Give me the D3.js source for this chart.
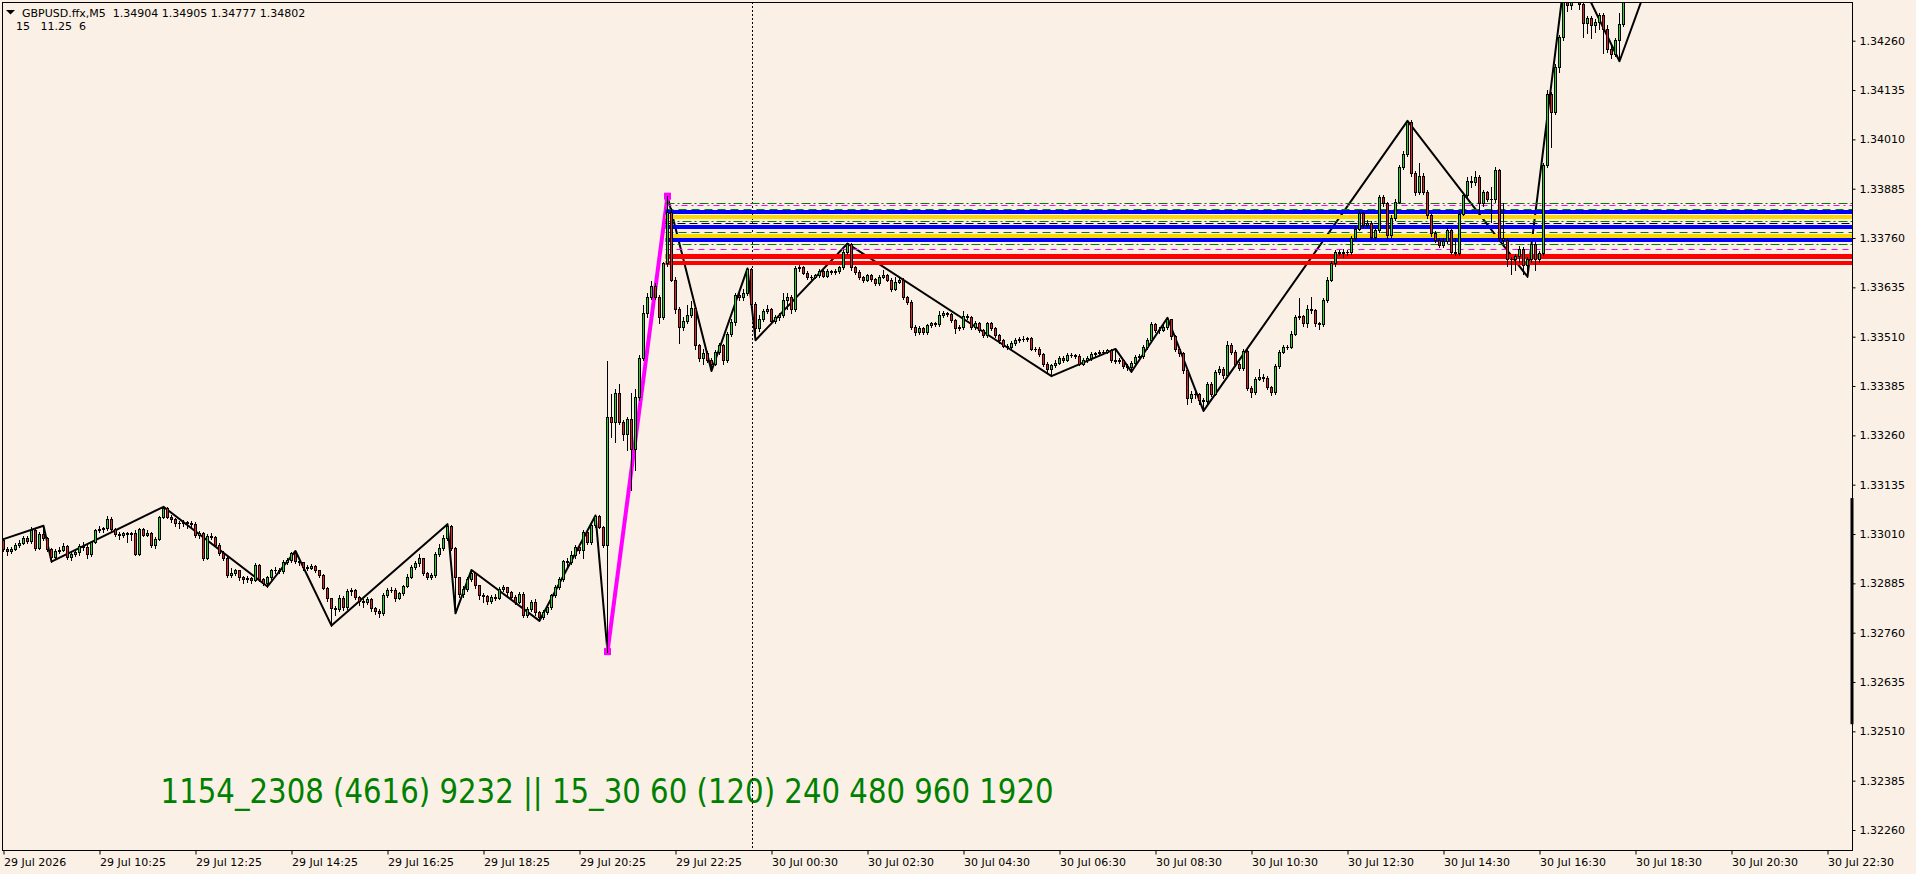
<!DOCTYPE html>
<html>
<head>
<meta charset="utf-8">
<script src="https://cdn.jsdelivr.net/npm/d3@7"></script>
<style>
	html, body { margin: 0; padding: 0; background: #faf0e6; overflow: hidden; }
	svg { display: block; }
</style>
</head>
<body>
<svg id="chart"></svg>
<script>
(function(){
	'use strict';

	// GBPUSD M5, prices written in points (0.00001) above BASE
	var BASE = 1.32;
	var firstOpen = 995;

	var closes = [
		971,968,973,982,988,1000,992,1020,975,1010,
		1000,973,952,968,970,980,951,960,964,980,
		978,960,990,1019,1022,1025,1049,1022,1010,1008,
		1012,1010,1012,960,1022,1008,1012,982,998,1052,
		1077,1054,1047,1038,1037,1040,1038,1036,1007,1012,
		950,1005,1003,983,963,950,906,912,918,900,
		895,898,894,932,895,886,900,918,920,917,
		940,943,962,942,938,926,925,930,918,906,
		874,847,822,820,849,825,866,868,851,840,
		838,845,822,815,810,855,868,869,848,860,
		878,902,927,936,948,912,901,905,960,975,
		1000,1030,975,900,858,870,895,912,880,855,
		852,840,850,848,870,875,862,850,838,858,
		805,820,838,812,800,812,825,855,875,896,
		941,940,957,977,969,1015,990,1033,1056,1028,
		982,1307,1294,1368,1294,1264,1302,1226,1356,1457,
		1569,1611,1638,1611,1561,1696,1827,1654,1579,1535,
		1550,1565,1582,1489,1455,1468,1451,1442,1472,1489,
		1451,1517,1548,1615,1611,1621,1681,1594,1531,1556,
		1576,1579,1550,1559,1565,1603,1610,1579,1683,1686,
		1672,1660,1662,1666,1677,1665,1677,1674,1677,1686,
		1725,1745,1686,1675,1660,1654,1666,1655,1645,1662,
		1666,1654,1632,1649,1654,1611,1599,1535,1522,1531,
		1522,1539,1544,1542,1565,1569,1567,1552,1531,1535,
		1562,1559,1535,1545,1527,1514,1544,1531,1514,1501,
		1487,1484,1493,1501,1503,1505,1506,1480,1480,1466,
		1442,1427,1438,1444,1455,1452,1463,1463,1462,1442,
		1451,1455,1466,1468,1472,1472,1476,1451,1449,1451,
		1436,1432,1444,1459,1461,1485,1501,1542,1527,1528,
		1535,1554,1512,1480,1468,1425,1354,1366,1365,1349,
		1348,1390,1366,1421,1427,1413,1490,1472,1442,1430,
		1474,1381,1370,1404,1407,1405,1383,1370,1436,1472,
		1485,1485,1518,1561,1562,1544,1579,1577,1544,1542,
		1603,1654,1696,1725,1723,1725,1724,1759,1784,1823,
		1793,1799,1763,1780,1865,1848,1768,1812,1852,1940,
		1974,2055,1924,1877,1917,1877,1818,1772,1756,1742,
		1753,1780,1725,1723,1822,1869,1904,1902,1915,1848,
		1877,1860,1858,1932,1759,1755,1706,1708,1714,1733,
		1691,1708,1746,1708,1722,1945,2126,2080,2194,2270,
		2362,2350,2372,2380,2353,2304,2317,2300,2308,2325,
		2289,2240,2226,2263,2302,2370,2395,2384,2410,2398,
		2420,2415,2425
	];

	var highs = [
		999,976,977,986,994,1005,1004,1027,1023,1016,
		1031,1003,975,972,976,986,983,968,970,985,
		990,982,993,1023,1030,1029,1055,1052,1024,1015,
		1016,1014,1016,1020,1026,1025,1020,1014,1002,1055,
		1079,1078,1058,1050,1043,1045,1044,1042,1040,1018,
		1015,1010,1012,1006,986,966,952,925,922,920,
		904,904,902,936,934,898,903,921,926,925,
		945,950,965,967,946,940,931,934,932,920,
		908,876,849,828,855,852,870,874,870,853,
		845,850,848,825,820,860,872,875,872,864,
		882,908,931,942,960,950,915,910,965,985,
		1008,1035,1032,978,902,878,900,919,914,882,
		860,855,855,858,875,880,877,866,855,862,
		862,826,842,845,816,818,830,858,880,900,
		945,948,968,982,980,1020,1018,1038,1057,1058,
		1030,1448,1366,1378,1389,1298,1306,1368,1378,1463,
		1590,1620,1650,1645,1615,1700,1866,1835,1660,1586,
		1560,1590,1600,1586,1492,1478,1475,1455,1476,1495,
		1492,1522,1555,1620,1625,1630,1683,1684,1598,1566,
		1580,1590,1583,1565,1570,1620,1620,1615,1690,1692,
		1690,1676,1666,1670,1682,1680,1681,1680,1682,1690,
		1730,1746,1748,1690,1678,1664,1670,1668,1658,1666,
		1680,1670,1658,1660,1658,1658,1614,1602,1540,1536,
		1535,1543,1548,1548,1575,1574,1573,1570,1555,1540,
		1575,1568,1562,1550,1548,1530,1548,1548,1534,1517,
		1504,1492,1498,1506,1510,1512,1510,1509,1485,1483,
		1468,1445,1442,1450,1460,1460,1468,1468,1467,1465,
		1456,1460,1470,1472,1476,1477,1478,1478,1479,1456,
		1454,1440,1448,1464,1466,1490,1506,1548,1545,1534,
		1540,1558,1556,1515,1484,1472,1428,1372,1372,1368,
		1355,1396,1394,1426,1435,1432,1498,1495,1476,1447,
		1480,1478,1385,1409,1428,1416,1410,1386,1440,1477,
		1490,1490,1524,1566,1607,1565,1590,1610,1580,1548,
		1608,1660,1702,1730,1730,1732,1730,1765,1790,1828,
		1826,1805,1802,1786,1870,1868,1852,1818,1858,1945,
		1980,2057,2058,1930,1950,1925,1882,1822,1778,1760,
		1760,1785,1784,1760,1828,1875,1915,1918,1930,1920,
		1882,1880,1890,1940,1935,1848,1760,1712,1720,1740,
		1736,1712,1752,1750,1728,1950,2135,2130,2200,2275,
		2368,2480,2390,2395,2390,2360,2322,2322,2314,2330,
		2330,2300,2246,2268,2330,2380,2402,2405,2415,2418,
		2426,2428,2431
	];

	var lows = [
		966,958,963,970,978,984,986,988,970,972,
		995,968,940,946,962,966,947,945,955,958,
		970,950,955,986,1014,1016,1020,1018,1004,998,
		1003,990,995,957,956,1004,1005,978,975,995,
		1050,1050,1040,1030,1025,1030,1025,1028,1003,1000,
		945,946,998,979,958,944,900,902,905,893,
		885,889,887,890,890,880,877,896,912,910,
		912,935,940,936,932,920,918,921,913,900,
		870,840,778,805,815,818,820,855,845,830,
		825,832,815,808,800,806,850,862,840,845,
		856,875,899,922,930,905,895,896,900,955,
		970,996,970,809,850,850,865,890,872,846,
		838,833,836,842,845,866,855,846,832,835,
		800,799,815,806,790,795,808,820,850,870,
		890,930,935,950,962,950,985,985,1028,1024,
		978,712,1256,1243,1290,1249,1222,1121,1173,1350,
		1450,1560,1605,1605,1545,1555,1690,1650,1570,1493,
		1528,1545,1560,1480,1448,1440,1445,1423,1438,1465,
		1440,1446,1512,1540,1602,1604,1615,1585,1501,1525,
		1550,1570,1545,1544,1553,1560,1580,1570,1575,1676,
		1668,1656,1655,1658,1662,1660,1662,1669,1670,1672,
		1682,1720,1680,1670,1655,1648,1650,1650,1640,1642,
		1658,1650,1625,1628,1645,1606,1594,1530,1515,1518,
		1517,1518,1535,1536,1538,1560,1562,1547,1520,1526,
		1530,1554,1530,1530,1522,1508,1510,1526,1508,1495,
		1483,1478,1480,1490,1497,1499,1500,1476,1474,1461,
		1436,1420,1410,1432,1440,1447,1448,1458,1457,1437,
		1438,1447,1450,1462,1464,1467,1468,1446,1443,1444,
		1431,1426,1421,1440,1454,1456,1480,1496,1522,1520,
		1524,1530,1505,1474,1460,1418,1340,1344,1355,1340,
		1322,1340,1360,1362,1415,1405,1408,1466,1436,1425,
		1425,1376,1358,1366,1400,1398,1378,1362,1366,1430,
		1468,1480,1481,1514,1556,1538,1535,1570,1538,1530,
		1538,1598,1650,1690,1716,1712,1718,1720,1754,1780,
		1788,1788,1757,1758,1775,1842,1760,1763,1806,1848,
		1935,1968,1918,1870,1872,1872,1812,1766,1750,1738,
		1738,1748,1720,1718,1718,1818,1864,1890,1895,1820,
		1842,1854,1800,1852,1752,1748,1690,1670,1678,1700,
		1668,1662,1700,1680,1700,1718,1940,1990,2075,2180,
		2262,2335,2340,2362,2340,2270,2280,2268,2282,2290,
		2228,2232,2215,2220,2208,2298,2360,2375,2378,2390,
		2392,2408,2410
	];

	// zigzag swing points (bar index, price in points)
	var zigzagBars   = [0, 10, 12, 40, 66, 73, 82, 111, 113, 117, 134, 148, 151, 166, 177, 186, 188, 211, 262, 278, 282, 291, 300, 351, 381, 391, 404, 412];
	var zigzagPoints = [997, 1031, 940, 1079, 877, 967, 778, 1035, 809, 919, 790, 1057, 712, 1866, 1423, 1683, 1501, 1746, 1410, 1479, 1421, 1558, 1322, 2057, 1662, 2480, 2208, 2431];

	// the highlighted impulse leg
	var legBars   = [151, 166];
	var legPoints = [712, 1866];

	// horizontal levels drawn from the top of the leg
	var levelStartBar = 166;
	var levelPoints = [1848, 1843, 1833, 1826, 1814, 1802, 1797, 1789, 1775, 1766, 1754, 1744, 1732, 1714, 1696];
	var levelKinds  = ["greenDot", "pinkDot", "greenDash", "blue", "gold", "greenDot", "blackDash", "blue", "greenDash", "gold", "blue", "greenDot", "pinkDash", "redWide", "red"];

	var priceTicks = [1.34260, 1.34135, 1.34010, 1.33885, 1.33760, 1.33635, 1.33510, 1.33385, 1.33260,
	                  1.33135, 1.33010, 1.32885, 1.32760, 1.32635, 1.32510, 1.32385, 1.32260];

	var timeLabels = ["29 Jul 2026", "29 Jul 10:25", "29 Jul 12:25", "29 Jul 14:25", "29 Jul 16:25",
	                  "29 Jul 18:25", "29 Jul 20:25", "29 Jul 22:25", "30 Jul 00:30", "30 Jul 02:30",
	                  "30 Jul 04:30", "30 Jul 06:30", "30 Jul 08:30", "30 Jul 10:30", "30 Jul 12:30",
	                  "30 Jul 14:30", "30 Jul 16:30", "30 Jul 18:30", "30 Jul 20:30", "30 Jul 22:30"];
	var barsPerLabel = 24;
	var separatorBar = 187;

	var scaleMarkTop = 1.33101, scaleMarkBottom = 1.32528;

	var headerText = "GBPUSD.ffx,M5  1.34904 1.34905 1.34777 1.34802";
	var subHeaderText = "15   11.25  6";
	var periodsText = "1154_2308 (4616) 9232 || 15_30 60 (120) 240 480 960 1920";

	var levelStyles = {
		greenDot:  { color: "#008000", width: 1, dash: "9,3,2,3" },
		pinkDot:   { color: "#ff00ff", width: 1, dash: "6,4,2,4" },
		greenDash: { color: "#008000", width: 1, dash: "8,5" },
		blackDash: { color: "#000000", width: 1, dash: "8,4" },
		pinkDash:  { color: "#ff00ff", width: 1, dash: "6,5" },
		blue:      { color: "#0000ff", width: 4, dash: null },
		gold:      { color: "#ffd700", width: 4, dash: null },
		redWide:   { color: "#ff0000", width: 5, dash: null },
		red:       { color: "#ff0000", width: 4, dash: null }
	};

	var W = 1916, H = 874;
	var plot = { left: 2, top: 2, right: 1852, bottom: 850 };
	var FONT = "'DejaVu Sans', Verdana, sans-serif";

	function toPrice(p){ return BASE + p / 100000; }

	var svg = d3.select("#chart").attr("width", W).attr("height", H);

	svg.append("rect").attr("width", W).attr("height", H).attr("fill", "#faf0e6");

	var x = d3.scaleLinear().domain([0, 462]).range([3.5, 3.5 + 4 * 462]);
	var y = d3.scaleLinear().domain([1.32260, 1.34260]).range([830, 40.7]);

	svg.append("clipPath").attr("id", "plotClip")
		.append("rect")
		.attr("x", plot.left + 1).attr("y", plot.top + 1)
		.attr("width", plot.right - plot.left - 1)
		.attr("height", plot.bottom - plot.top - 1);

	// build candles
	var candles = closes.map(function(c, i){
		return {
			i: i,
			o: i === 0 ? firstOpen : closes[i - 1],
			c: c,
			h: highs[i],
			l: lows[i]
		};
	});

	// big period text (behind the chart objects)
	svg.append("text")
		.attr("x", 160.6).attr("y", 803)
		.attr("fill", "#008000")
		.style("font-family", "'DejaVu Sans Condensed', 'DejaVu Sans', sans-serif")
		.style("font-size", "33px")
		.attr("textLength", 893)
		.attr("lengthAdjust", "spacingAndGlyphs")
		.text(periodsText);

	var g = svg.append("g").attr("clip-path", "url(#plotClip)");

	// day separator
	g.append("line")
		.attr("x1", Math.round(x(separatorBar)) + 0.5).attr("x2", Math.round(x(separatorBar)) + 0.5)
		.attr("y1", plot.top).attr("y2", plot.bottom)
		.attr("stroke", "#000").attr("stroke-width", 1)
		.attr("stroke-dasharray", "2,2");

	// zigzag
	var zz = zigzagBars.map(function(b, k){ return [x(b), y(toPrice(zigzagPoints[k]))]; });
	g.append("path")
		.attr("d", d3.line()(zz))
		.attr("fill", "none")
		.attr("stroke", "#000")
		.attr("stroke-width", 2)
		.attr("stroke-linejoin", "round");

	// highlighted leg
	var leg = legBars.map(function(b, k){ return [x(b), y(toPrice(legPoints[k]))]; });
	g.append("path")
		.attr("d", d3.line()(leg))
		.attr("fill", "none")
		.attr("stroke", "#ff00ff")
		.attr("stroke-width", 4);
	g.selectAll(".legEnd")
		.data(leg)
		.enter().append("rect")
		.attr("class", "legEnd")
		.attr("x", function(d){ return d[0] - 3.5; })
		.attr("y", function(d){ return d[1] - 3.5; })
		.attr("width", 7).attr("height", 7)
		.attr("fill", "#ff00ff");

	// levels
	var levels = levelPoints.map(function(p, k){ return { price: toPrice(p), kind: levelKinds[k] }; });
	g.selectAll(".level")
		.data(levels)
		.enter().append("line")
		.attr("class", "level")
		.attr("x1", x(levelStartBar) - 2)
		.attr("x2", plot.right)
		.attr("y1", function(d){ return Math.round(y(d.price)) + (levelStyles[d.kind].width % 2 ? 0.5 : 0); })
		.attr("y2", function(d){ return Math.round(y(d.price)) + (levelStyles[d.kind].width % 2 ? 0.5 : 0); })
		.attr("stroke", function(d){ return levelStyles[d.kind].color; })
		.attr("stroke-width", function(d){ return levelStyles[d.kind].width; })
		.attr("stroke-dasharray", function(d){ return levelStyles[d.kind].dash; });

	// candles
	var cg = g.append("g").attr("shape-rendering", "crispEdges");
	var candle = cg.selectAll(".candle")
		.data(candles)
		.enter().append("g")
		.attr("class", "candle");

	candle.append("rect")
		.attr("x", function(d){ return x(d.i) - 0.5; })
		.attr("width", 1)
		.attr("y", function(d){ return Math.round(y(toPrice(d.h))); })
		.attr("height", function(d){ return Math.max(1, Math.round(y(toPrice(d.l))) - Math.round(y(toPrice(d.h))) + 1); })
		.attr("fill", "#000");

	function bodyTop(d){ return Math.round(y(toPrice(Math.max(d.o, d.c)))); }
	function bodyBottom(d){ return Math.round(y(toPrice(Math.min(d.o, d.c)))); }

	candle.append("rect")
		.attr("x", function(d){ return x(d.i) - 1.5; })
		.attr("width", 3)
		.attr("y", bodyTop)
		.attr("height", function(d){ return Math.max(1, bodyBottom(d) - bodyTop(d) + 1); })
		.attr("fill", "#000");

	candle.filter(function(d){ return bodyBottom(d) - bodyTop(d) >= 2; })
		.append("rect")
		.attr("x", function(d){ return x(d.i) - 0.5; })
		.attr("width", 1)
		.attr("y", function(d){ return bodyTop(d) + 1; })
		.attr("height", function(d){ return bodyBottom(d) - bodyTop(d) - 1; })
		.attr("fill", function(d){ return d.c >= d.o ? "#22d622" : "#e52222"; });

	// frame
	svg.append("rect")
		.attr("x", plot.left + 0.5).attr("y", plot.top + 0.5)
		.attr("width", plot.right - plot.left)
		.attr("height", plot.bottom - plot.top)
		.attr("fill", "none")
		.attr("stroke", "#000")
		.attr("stroke-width", 1);

	// price scale marker on the right edge
	svg.append("rect")
		.attr("x", plot.right - 1.5).attr("width", 3)
		.attr("y", y(scaleMarkTop))
		.attr("height", y(scaleMarkBottom) - y(scaleMarkTop))
		.attr("fill", "#000");

	// right price axis
	var yAxis = svg.append("g")
		.attr("transform", "translate(" + (plot.right + 0.5) + ",0)")
		.call(d3.axisRight(y).tickValues(priceTicks).tickSize(3).tickPadding(4).tickFormat(d3.format(".5f")));
	yAxis.select(".domain").remove();
	yAxis.selectAll("text")
		.attr("fill", "#000")
		.style("font-family", FONT)
		.style("font-size", "11px");

	// bottom time axis
	var tickBars = timeLabels.map(function(t, k){ return k * barsPerLabel; });
	var xAxis = svg.append("g")
		.attr("transform", "translate(0," + (plot.bottom + 0.5) + ")")
		.call(d3.axisBottom(x).tickValues(tickBars).tickSize(4).tickPadding(4)
			.tickFormat(function(d, k){ return timeLabels[k]; }));
	xAxis.select(".domain").remove();
	xAxis.selectAll("text")
		.attr("text-anchor", "start")
		.attr("x", 0)
		.attr("fill", "#000")
		.style("font-family", FONT)
		.style("font-size", "11px");

	// header
	svg.append("path")
		.attr("d", "M6,10L15,10L10.5,14.5Z")
		.attr("fill", "#000");
	svg.append("text")
		.attr("x", 22).attr("y", 17)
		.attr("fill", "#000")
		.style("font-family", FONT)
		.style("font-size", "11px")
		.style("white-space", "pre")
		.text(headerText);
	svg.append("text")
		.attr("x", 16).attr("y", 30)
		.attr("fill", "#000")
		.style("font-family", FONT)
		.style("font-size", "11px")
		.style("white-space", "pre")
		.text(subHeaderText);

})();
</script>
</body>
</html>
